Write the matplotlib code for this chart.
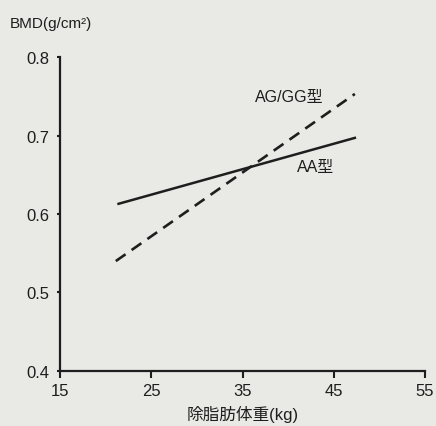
import matplotlib.pyplot as plt

plt.rcParams['font.family'] = ['Liberation Sans', 'Noto Sans CJK JP', 'DejaVu Sans']

# データ (読み取り値)
x_aa = [21.4, 47.3]
y_aa = [0.613, 0.697]
x_ag = [21.1, 47.3]
y_ag = [0.540, 0.753]

xticks = [15, 25, 35, 45, 55]
yticks = [0.4, 0.5, 0.6, 0.7, 0.8]
ylabels = ['0.4', '0.5', '0.6', '0.7', '0.8']

bg = '#e9e9e6'
ink = '#1e1e1e'
fig = plt.figure(figsize=(4.36, 4.27), dpi=100, facecolor=bg)
ax = fig.add_axes([0.138, 0.129, 0.837, 0.735], facecolor=bg)

ax.plot(x_aa, y_aa, '-', color=ink, lw=1.8)
ax.plot(x_ag, y_ag, '--', color=ink, lw=1.9, dashes=(4.5, 2.8))

ax.text(36.3, 0.750, 'AG/GG型', fontsize=11.5, color=ink, va='center')
ax.text(41.0, 0.660, 'AA型', fontsize=11.5, color=ink, va='center')

ax.set_xlim(15, 55)
ax.set_ylim(0.4, 0.8)
ax.set_xticks(xticks)
ax.set_yticks(yticks)
ax.set_yticklabels(ylabels)
ax.tick_params(axis='both', labelsize=12, colors=ink, width=1.5)
ax.tick_params(axis='y', length=2, pad=6)
ax.tick_params(axis='x', length=5)
for s in ['top', 'right']:
    ax.spines[s].set_visible(False)
for s in ['left', 'bottom']:
    ax.spines[s].set_linewidth(1.6)
    ax.spines[s].set_color(ink)

fig.text(0.022, 0.935, 'BMD(g/cm²)', fontsize=11, color=ink)
ax.set_xlabel('除脂肪体重(kg)', fontsize=12, color=ink, labelpad=5)

fig.savefig('out.png', dpi=100, facecolor=bg)
